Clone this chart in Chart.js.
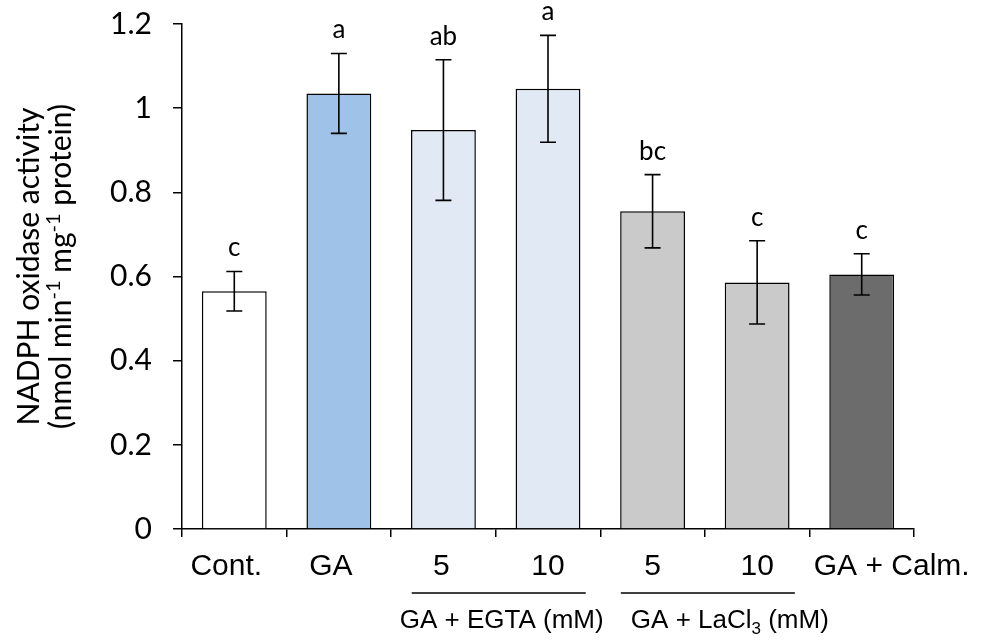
<!DOCTYPE html>
<html>
<head>
<meta charset="utf-8">
<script src="https://cdn.jsdelivr.net/npm/chart.js@4.4.0/dist/chart.umd.min.js"></script>
<style>
  html, body { margin: 0; padding: 0; background: #fff; }
  #wrap { width: 990px; height: 641px; }
</style>
</head>
<body>
<div id="wrap"><canvas id="chart" width="990" height="641"></canvas></div>
<script>
// data
const categories = ['Cont.', 'GA', '5', '10', '5', '10', 'GA + Calm.'];
const activity = [0.565, 1.035, 0.948, 1.046, 0.755, 0.586, 0.605];
const errors = [0.047, 0.095, 0.167, 0.127, 0.087, 0.099, 0.049];
const letters = ['c', 'a', 'ab', 'a', 'bc', 'c', 'c'];
const barColors = ['#ffffff', '#9fc2e8', '#e1e9f5', '#e1e9f5', '#cacaca', '#cacaca', '#6c6c6c'];
const groups = [
  { parts: [{ t: 'GA + EGTA (mM)' }], from: 2, to: 3, textShift: 6 },
  { parts: [{ t: 'GA + LaCl' }, { t: '3', sub: true }, { t: ' (mM)' }], from: 4, to: 5, textShift: 25 }
];
const titleLines = [
  [{ t: 'NADPH oxidase activity' }],
  [{ t: '(nmol min' }, { t: '-1', sup: true }, { t: ' mg' }, { t: '-1', sup: true }, { t: ' protein)' }]
];
const yTicks = [0, 0.2, 0.4, 0.6, 0.8, 1, 1.2];

const sansFont = "'Lato', 'Open Sans', sans-serif";
const narrowFont = "'Liberation Sans Narrow', 'Liberation Sans', sans-serif";

// draws text with super/subscripts, centred on cx
function drawRich(ctx, parts, cx, y, size, family) {
  const small = Math.round(size * 0.65);
  let total = 0;
  parts.forEach(p => {
    ctx.font = ((p.sup || p.sub) ? small : size) + 'px ' + family;
    p.w = ctx.measureText(p.t).width;
    total += p.w;
  });
  let x = cx - total / 2;
  ctx.textAlign = 'left';
  ctx.textBaseline = 'alphabetic';
  parts.forEach(p => {
    ctx.font = ((p.sup || p.sub) ? small : size) + 'px ' + family;
    const dy = p.sup ? -size * 0.38 : (p.sub ? size * 0.22 : 0);
    ctx.fillText(p.t, x, y + dy);
    x += p.w;
  });
}

// error bars + significance letters
const errorBarPlugin = {
  id: 'errorBars',
  afterDatasetsDraw(chart) {
    const ctx = chart.ctx;
    const x = chart.scales.x, y = chart.scales.y;
    ctx.save();
    ctx.strokeStyle = '#000';
    ctx.lineWidth = 1.6;
    activity.forEach((v, i) => {
      const cx = x.getPixelForValue(i);
      const top = y.getPixelForValue(v + errors[i]);
      const bot = y.getPixelForValue(v - errors[i]);
      ctx.beginPath();
      ctx.moveTo(cx, top); ctx.lineTo(cx, bot);
      ctx.moveTo(cx - 8, top); ctx.lineTo(cx + 8, top);
      ctx.moveTo(cx - 8, bot); ctx.lineTo(cx + 8, bot);
      ctx.stroke();
      ctx.fillStyle = '#000';
      ctx.font = "26px " + sansFont;
      ctx.textAlign = 'center';
      ctx.textBaseline = 'alphabetic';
      ctx.fillText(letters[i], cx, top - 15);
    });
    ctx.restore();
  }
};

// category labels, group lines, group labels and the y axis title
const annotationPlugin = {
  id: 'annotations',
  afterDraw(chart) {
    const ctx = chart.ctx;
    const x = chart.scales.x, y = chart.scales.y;
    ctx.save();
    ctx.fillStyle = '#000';

    // category labels sit a little off-centre in the original figure
    const nudge = [-8, -8, -2, 0, 0, 0, 30];
    ctx.font = '30px ' + narrowFont;
    ctx.textAlign = 'center';
    ctx.textBaseline = 'alphabetic';
    categories.forEach((c, i) => ctx.fillText(c, x.getPixelForValue(i) + nudge[i], 575));

    ctx.strokeStyle = '#000';
    ctx.lineWidth = 1.5;
    groups.forEach(g => {
      const mid = (x.getPixelForValue(g.from) + x.getPixelForValue(g.to)) / 2;
      ctx.beginPath();
      ctx.moveTo(mid + 3 - 87, 593);
      ctx.lineTo(mid + 3 + 87, 593);
      ctx.stroke();
      drawRich(ctx, g.parts, mid + g.textShift, 628, 26, narrowFont);
    });

    const cy = (y.top + y.bottom) / 2 - 10;
    ctx.translate(0, cy);
    ctx.rotate(-Math.PI / 2);
    drawRich(ctx, titleLines[0], 0, 39, 30, sansFont);
    drawRich(ctx, titleLines[1], 0, 71, 30, sansFont);
    ctx.restore();
  }
};

new Chart(document.getElementById('chart').getContext('2d'), {
  type: 'bar',
  data: {
    labels: categories,
    datasets: [{
      data: activity,
      backgroundColor: barColors,
      borderColor: '#000',
      borderWidth: 1.5,
      barPercentage: 0.62,
      categoryPercentage: 1.0
    }]
  },
  options: {
    responsive: false,
    animation: false,
    layout: { padding: { left: 0, right: 76, top: 24, bottom: 0 } },
    plugins: { legend: { display: false }, tooltip: { enabled: false } },
    scales: {
      x: {
        grid: { drawOnChartArea: false, tickLength: 8, color: '#000', lineWidth: 1.5, offset: true },
        border: { color: '#000', width: 1.5 },
        ticks: { display: false },
        afterFit(scale) { scale.height = 112; scale.paddingLeft = 0; scale.paddingRight = 0; }
      },
      y: {
        min: 0, max: 1.2,
        afterBuildTicks(scale) { scale.ticks = yTicks.map(v => ({ value: v })); },
        grid: { drawOnChartArea: false, tickLength: 9, color: '#000', lineWidth: 1.5 },
        border: { color: '#000', width: 1.5 },
        ticks: { color: '#000', font: { family: sansFont, size: 30 }, padding: 21, callback: v => String(v) },
        afterFit(scale) { scale.width = 182; scale.paddingTop = 0; scale.paddingBottom = 0; }
      }
    }
  },
  plugins: [errorBarPlugin, annotationPlugin]
});
</script>
</body>
</html>
